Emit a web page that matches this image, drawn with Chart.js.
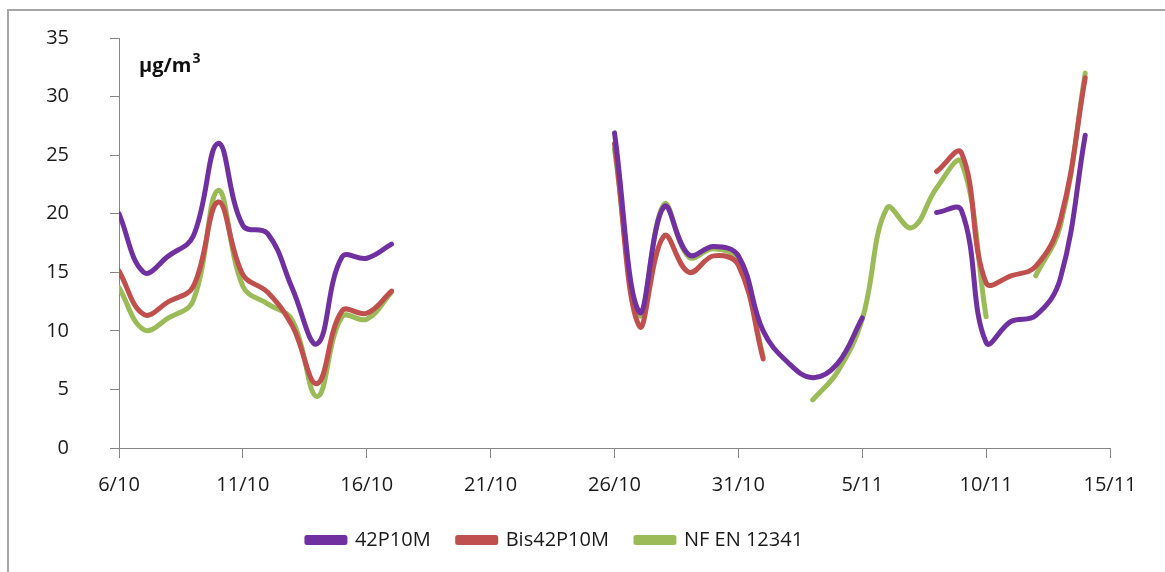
<!DOCTYPE html>
<html>
<head>
<meta charset="utf-8">
<script src="https://cdn.jsdelivr.net/npm/chart.js@4"></script>
<style>
  html, body { margin: 0; padding: 0; background: #fff; }
  #wrap { width: 1165px; height: 572px; position: relative; }
</style>
</head>
<body>
<div id="wrap"><canvas id="pm10Chart"></canvas></div>
<script>
// x tick labels, one every 5 days (day 0 = 6/10)
const tickLabels = ["6/10", "11/10", "16/10", "21/10", "26/10", "31/10", "5/11", "10/11", "15/11"];

// daily values, day 0 = 6/10 ... day 39 = 14/11, null = no measurement
const p42 = [20, 15, 16.4, 18.1, 26, 19, 18.3, 13.6, 8.9, 16.3, 16.2, 17.4,
  null, null, null, null, null, null, null, null,
  26.9, 11.6, 20.6, 16.5, 17.2, 16.4, 10, 7.3, 6, 7.2, 11.1,
  null, null,
  20.1, 20.3, 9, 10.8, 11.3, 14.5, 26.7];

const bis42 = [15.1, 11.4, 12.5, 13.8, 21, 14.8, 13.3, 10.4, 5.5, 11.7, 11.5, 13.4,
  null, null, null, null, null, null, null, null,
  26, 10.4, 18.1, 15, 16.4, 15.6, 7.6,
  null, null, null, null, null, null,
  23.6, 25.2, 14.1, 14.7, 15.5, 19.5, 31.6];

const nfen = [13.7, 10.1, 11.1, 12.6, 22, 13.8, 12.3, 10.9, 4.4, 11.2, 11, 13.3,
  null, null, null, null, null, null, null, null,
  25.5, 11.3, 20.8, 16.3, 17, 16, 7.8,
  null,
  4.1, 6.5, 11, 20.5, 18.8, 22.2, 24.4, 11.2,
  null,
  14.7, 19, 32];

const seriesNames = ["42P10M", "Bis42P10M", "NF EN 12341"];
const seriesColors = ["#7030a0", "#c0504d", "#9bbb59"];

const toPoints = arr => arr.map((v, i) => ({ x: i, y: v }));

const axisColor = "#868686";
const font = "'Open Sans', sans-serif";

// outer frame + unit label
const decor = {
  id: "decor",
  beforeDraw(chart) {
    const c = chart.ctx;
    c.save();
    c.strokeStyle = "#a6a6a6";
    c.lineWidth = 2;
    c.strokeRect(8, 10, 1300, 800);
    c.restore();
  },
  afterDraw(chart) {
    const c = chart.ctx;
    c.save();
    c.fillStyle = "#111";
    c.textBaseline = "alphabetic";
    c.font = "bold 20px " + font;
    c.fillText("µg/m", 139, 72);
    const w = c.measureText("µg/m").width;
    c.font = "bold 14px " + font;
    c.fillText("3", 139 + w + 1, 63);
    c.restore();
  }
};

const ctx = document.getElementById("pm10Chart").getContext("2d");

new Chart(ctx, {
  type: "line",
  data: {
    datasets: [p42, bis42, nfen].map((arr, i) => ({
      label: seriesNames[i],
      data: toPoints(arr),
      borderColor: seriesColors[i],
      backgroundColor: seriesColors[i],
      borderWidth: 5,
      pointRadius: 0,
      tension: 0.4,
      spanGaps: false,
      borderCapStyle: "round",
      borderJoinStyle: "round"
    }))
  },
  plugins: [decor],
  options: {
    responsive: true,
    maintainAspectRatio: false,
    animation: false,
    layout: { padding: { left: 0, top: 38, right: 55, bottom: 12 } },
    scales: {
      x: {
        type: "linear",
        min: 0,
        max: 40,
        afterFit: s => { s.height = 55; },
        grid: { drawOnChartArea: false, tickLength: 10, color: axisColor },
        border: { color: axisColor, width: 1 },
        ticks: {
          stepSize: 5,
          padding: 15,
          color: "#1a1a1a",
          font: { family: font, size: 20 },
          maxRotation: 0,
          callback: v => tickLabels[v / 5]
        }
      },
      y: {
        min: 0,
        max: 35,
        afterFit: s => { s.width = 119; s.paddingTop = 12; s.paddingBottom = 12; },
        grid: { drawOnChartArea: false, tickLength: 9, color: axisColor },
        border: { color: axisColor, width: 1 },
        ticks: {
          stepSize: 5,
          padding: 41,
          color: "#1a1a1a",
          font: { family: font, size: 20 }
        }
      }
    },
    plugins: {
      tooltip: { enabled: false },
      legend: {
        position: "bottom",
        labels: {
          boxWidth: 38,
          boxHeight: 5,
          padding: 27,
          color: "#1a1a1a",
          font: { family: font, size: 20 }
        }
      }
    }
  }
});
</script>
</body>
</html>
